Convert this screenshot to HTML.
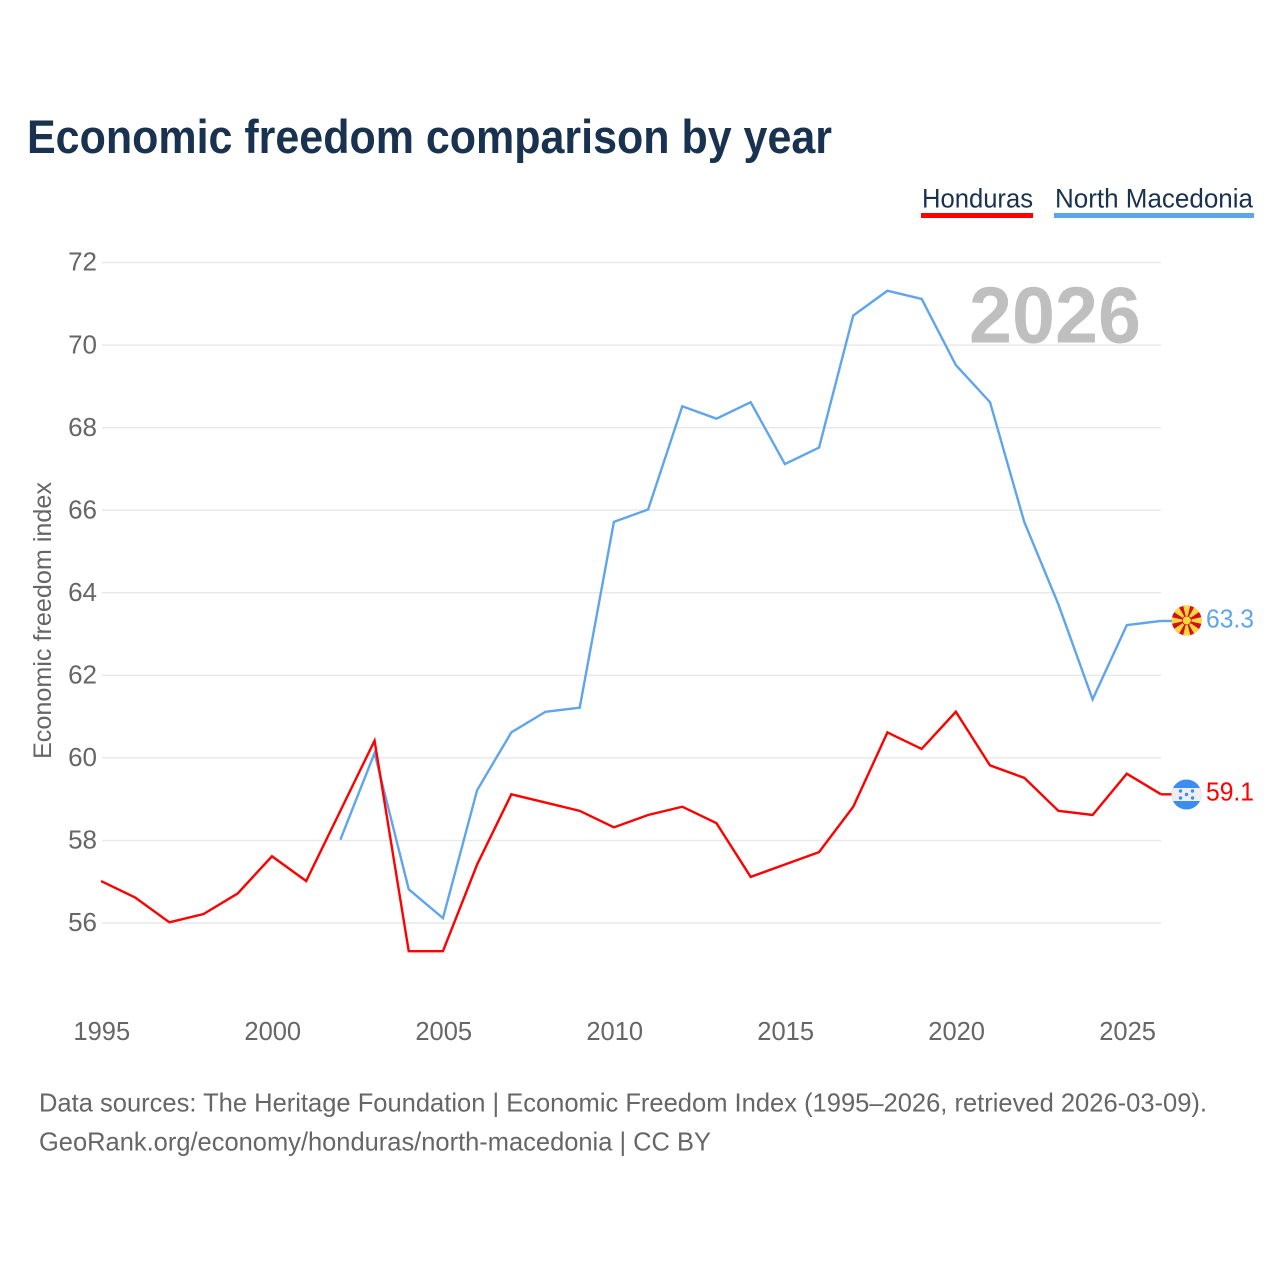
<!DOCTYPE html>
<html lang="en">
<head>
<meta charset="utf-8">
<title>Economic freedom comparison by year</title>
<style>
html,body{margin:0;padding:0;background:#fff;}
svg{display:block;font-family:"Liberation Sans",sans-serif;}
</style>
</head>
<body>
<svg id="chart" xmlns="http://www.w3.org/2000/svg" width="1280" height="1280" viewBox="0 0 1280 1280">
  <rect width="1280" height="1280" fill="#ffffff"/>
  <text x="27" y="153" font-size="47" font-weight="700" fill="#18324f" textLength="805" lengthAdjust="spacingAndGlyphs">Economic freedom comparison by year</text>

  <g>
    <g>
      <text x="922" y="207.5" font-size="27" fill="#18324f" textLength="111" lengthAdjust="spacingAndGlyphs">Honduras</text>
      <rect x="921" y="213" width="112" height="5" fill="#ff0000"/>
    </g>
    <g>
      <text x="1055" y="207.5" font-size="27" fill="#18324f" textLength="198" lengthAdjust="spacingAndGlyphs">North Macedonia</text>
      <rect x="1054" y="213" width="200" height="5" fill="#5fa5ec"/>
    </g>
  </g>

  <g id="grid"></g>
  <g id="yTicks"></g>
  <g id="xTicks"></g>

  <text transform="translate(51,620.5) rotate(-90)" text-anchor="middle" font-size="25" fill="#666666" textLength="277" lengthAdjust="spacingAndGlyphs">Economic freedom index</text>

  <text x="969" y="342.5" font-size="80" font-weight="700" fill="#bfbfbf" textLength="172" lengthAdjust="spacingAndGlyphs">2026</text>

  <g id="series" transform="translate(0,-0.7)"></g>

  <defs>
    <clipPath id="clip-mk"><circle cx="1186.7" cy="620.5" r="15"/></clipPath>
    <clipPath id="clip-hn"><circle cx="1186.5" cy="794.5" r="15"/></clipPath>
  </defs>

  <g clip-path="url(#clip-mk)">
    <rect x="1171" y="605" width="31" height="31" fill="#d20f22"/>
    <g fill="#ffd83a">
      <polygon points="1183,605 1190.4,605 1186.7,620.5"/>
      <polygon points="1183,636 1190.4,636 1186.7,620.5"/>
      <polygon points="1171,617 1171,624 1186.7,620.5"/>
      <polygon points="1202,617 1202,624 1186.7,620.5"/>
      <polygon points="1171,610 1177,604 1186.7,620.5"/>
      <polygon points="1196,604 1202,610 1186.7,620.5"/>
      <polygon points="1171,631 1177,637 1186.7,620.5"/>
      <polygon points="1196,637 1202,631 1186.7,620.5"/>
      <circle cx="1186.7" cy="620.5" r="4.5" stroke="#d20f22" stroke-width="0.8"/>
    </g>
  </g>

  <g clip-path="url(#clip-hn)">
    <rect x="1171" y="779" width="31" height="31" fill="#3b8df0"/>
    <rect x="1171" y="788" width="31" height="13" fill="#eeeeee"/>
    <g fill="#3b8df0">
      <circle cx="1180.5" cy="791" r="1.7"/>
      <circle cx="1192.5" cy="791" r="1.7"/>
      <circle cx="1186.5" cy="794.5" r="1.7"/>
      <circle cx="1180.5" cy="798" r="1.7"/>
      <circle cx="1192.5" cy="798" r="1.7"/>
    </g>
  </g>

  <text x="1206" y="627.5" font-size="26" fill="#5fa5ec" textLength="48" lengthAdjust="spacingAndGlyphs">63.3</text>
  <text x="1206" y="800.5" font-size="26" fill="#ff0000" textLength="48" lengthAdjust="spacingAndGlyphs">59.1</text>

  <text x="39" y="1111.5" font-size="26" fill="#666666" textLength="1168" lengthAdjust="spacingAndGlyphs">Data sources: The Heritage Foundation | Economic Freedom Index (1995–2026, retrieved 2026-03-09).</text>
  <text x="39" y="1150.5" font-size="26" fill="#666666" textLength="672" lengthAdjust="spacingAndGlyphs">GeoRank.org/economy/honduras/north-macedonia | CC BY</text>
</svg>

<script>
const yearsHonduras = [1995,1996,1997,1998,1999,2000,2001,2002,2003,2004,2005,2006,2007,2008,2009,2010,2011,2012,2013,2014,2015,2016,2017,2018,2019,2020,2021,2022,2023,2024,2025,2026];
const valuesHonduras = [57.0,56.6,56.0,56.2,56.7,57.6,57.0,58.7,60.4,55.3,55.3,57.4,59.1,58.9,58.7,58.3,58.6,58.8,58.4,57.1,57.4,57.7,58.8,60.6,60.2,61.1,59.8,59.5,58.7,58.6,59.6,59.1];
const yearsNorthMacedonia = [2002,2003,2004,2005,2006,2007,2008,2009,2010,2011,2012,2013,2014,2015,2016,2017,2018,2019,2020,2021,2022,2023,2024,2025,2026];
const valuesNorthMacedonia = [58.0,60.1,56.8,56.1,59.2,60.6,61.1,61.2,65.7,66.0,68.5,68.2,68.6,67.1,67.5,70.7,71.3,71.1,69.5,68.6,65.7,63.7,61.4,63.2,63.3];
const yTickValues = [56,58,60,62,64,66,68,70,72];
const xTickValues = [1995,2000,2005,2010,2015,2020,2025];

const SVG_NS = 'http://www.w3.org/2000/svg';
function xScale(year){ return 101 + (year - 1995) * (1060 / 31); }
function yScale(v){ return 923 - (v - 56) * 41.28; }
function make(tag, attrs, parent){
  const el = document.createElementNS(SVG_NS, tag);
  for (const k in attrs) el.setAttribute(k, attrs[k]);
  parent.appendChild(el);
  return el;
}

const grid = document.getElementById('grid');
const yTicks = document.getElementById('yTicks');
const xTicks = document.getElementById('xTicks');
const series = document.getElementById('series');

yTickValues.forEach(function(v){
  const line = make('line', {x1:102, x2:1161, y1:yScale(v), y2:yScale(v), stroke:'#e9e9e9', 'stroke-width':1.5}, grid);
  
  
  const label = make('text', {x:97, y:yScale(v)+8.2, 'text-anchor':'end', 'font-size':26, fill:'#666666'}, yTicks);
  
  
  label.textContent = String(v);
});

xTickValues.forEach(function(yr){
  const label = make('text', {x:xScale(yr)+0.8, y:1040, 'text-anchor':'middle', 'font-size':25.5, fill:'#666666'}, xTicks);
  
  
  label.textContent = String(yr);
});

function linePoints(years, values){
  return years.map(function(yr, i){ return xScale(yr).toFixed(2) + ',' + yScale(values[i]).toFixed(2); }).join(' ');
}

const lineMk = make('polyline', {points:linePoints(yearsNorthMacedonia, valuesNorthMacedonia), fill:'none', stroke:'#5fa5ec', 'stroke-width':2.4, 'stroke-linejoin':'miter'}, series);



const lineHn = make('polyline', {points:linePoints(yearsHonduras, valuesHonduras), fill:'none', stroke:'#ff0000', 'stroke-width':2.4, 'stroke-linejoin':'miter'}, series);



const lastMk = valuesNorthMacedonia[valuesNorthMacedonia.length - 1];
const connMk = make('line', {x1:xScale(2026), x2:1172, y1:yScale(lastMk), y2:yScale(lastMk), stroke:'#5fa5ec', 'stroke-width':2.4}, series);



const lastHn = valuesHonduras[valuesHonduras.length - 1];
const connHn = make('line', {x1:xScale(2026), x2:1172, y1:yScale(lastHn), y2:yScale(lastHn), stroke:'#ff0000', 'stroke-width':2.4}, series);


</script>
</body>
</html>
